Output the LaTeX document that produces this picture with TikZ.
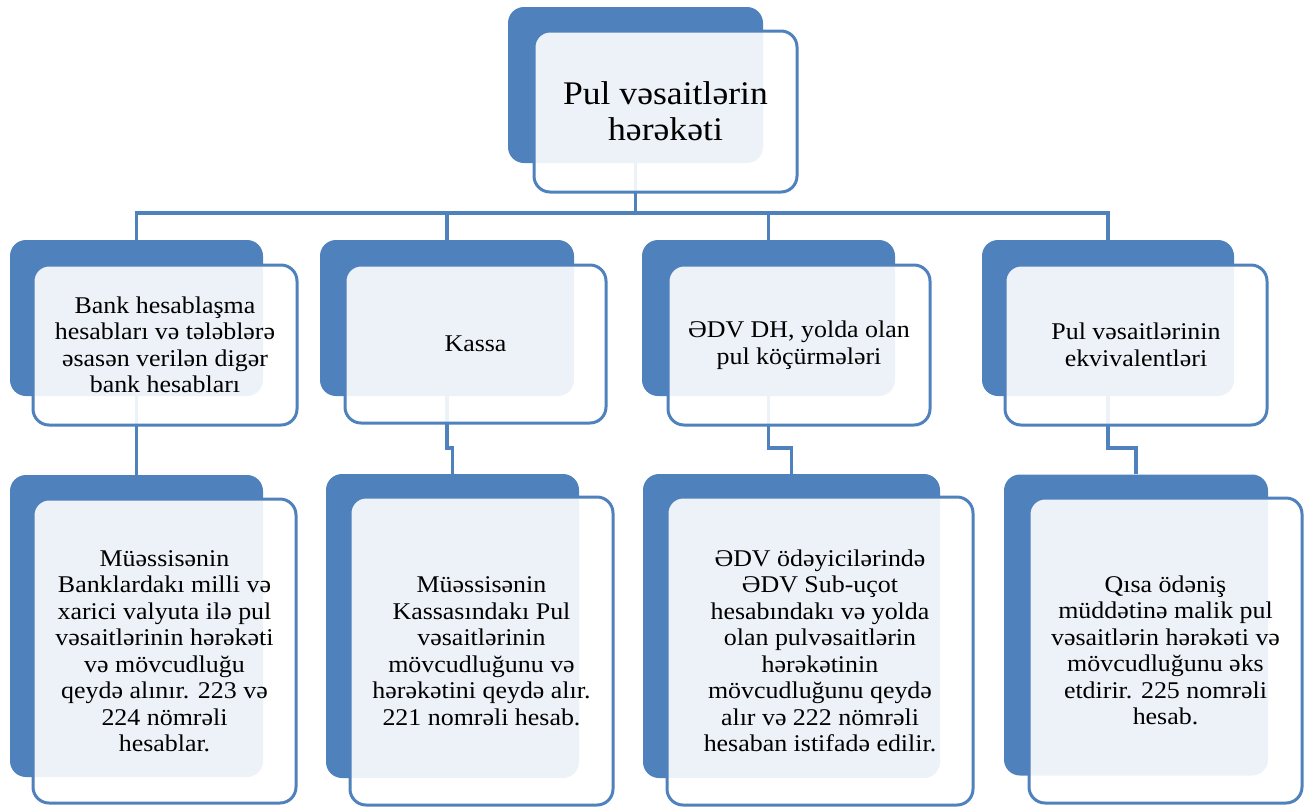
\documentclass[tikz,border=0pt]{standalone}
\usepackage{fontspec}
\setmainfont{Liberation Serif}[FakeStretch=1.08]
\definecolor{boxblue}{HTML}{4F81BD}

\begin{document}
\begin{tikzpicture}[x=1pt,y=-1pt,
  back/.style={fill=boxblue, rounded corners=16pt, inner sep=0pt},
  front/.style={draw=boxblue, line width=3pt, fill=white, fill opacity=0.9, text opacity=1,
    rounded corners=16pt, inner sep=0pt, align=center},
  link/.style={draw=boxblue, line width=3.5pt},
  big/.style={font=\fontsize{33}{36}\selectfont},
  small/.style={font=\fontsize{24}{26.5}\selectfont}]
\useasboundingbox (0,0) rectangle (1309,807);

%back boxes
\node[back, minimum width=255pt, minimum height=156pt] (topb) at (635.5,85) {};
\node[back, minimum width=253pt, minimum height=156pt] (bankb) at (136.5,318) {};
\node[back, minimum width=254pt, minimum height=156pt] (kassab) at (447,318) {};
\node[back, minimum width=253pt, minimum height=156pt] (edvb) at (768.5,318) {};
\node[back, minimum width=252pt, minimum height=156pt] (ekvb) at (1108,318) {};
\node[back, minimum width=253pt, minimum height=302pt] (bankdb) at (136.5,626) {};
\node[back, minimum width=253pt, minimum height=304pt] (kassadb) at (452.5,626) {};
\node[back, minimum width=297pt, minimum height=304pt] (edvdb) at (791.5,626) {};
\node[back, minimum width=264pt, minimum height=301pt] (ekvdb) at (1136,625) {};

%links
\draw[link] (topb.south) -- ++(0,50) -| (bankb.north);
\draw[link] (topb.south) -- ++(0,50) -| (kassab.north);
\draw[link] (topb.south) -- ++(0,50) -| (edvb.north);
\draw[link] (topb.south) -- ++(0,50) -| (ekvb.north);
\draw[link] (bankb.south) -- ++(0,52) -| (bankdb.north);
\draw[link] (kassab.south) -- ++(0,52) -| (kassadb.north);
\draw[link] (edvb.south) -- ++(0,52) -| (edvdb.north);
\draw[link] (ekvb.south) -- ++(0,52) -| (ekvdb.north);

%front boxes
\node[front, big, minimum width=263pt, minimum height=161pt] (top) at (665.5,111.5)
  {Pul vəsaitlərin\\hərəkəti};
\node[front, small, minimum width=264pt, minimum height=160pt] (bank) at (165,345)
  {Bank hesablaşma\\hesabları və tələblərə\\əsasən verilən digər\\bank hesabları};
\node[front, small, minimum width=261pt, minimum height=158pt] (kassa) at (475.5,344)
  {Kassa};
\node[front, small, minimum width=262pt, minimum height=160pt] (edv) at (799,345)
  {ƏDV DH, yolda olan\\pul köçürmələri};
\node[front, small, minimum width=262pt, minimum height=160pt] (ekv) at (1136,345)
  {Pul vəsaitlərinin\\ekvivalentləri};
\node[front, small, minimum width=263pt, minimum height=304pt] (bankd) at (164.5,651)
  {Müəssisənin\\Banklardakı milli və\\xarici valyuta ilə pul\\vəsaitlərinin hərəkəti\\və mövcudluğu\\qeydə alınır. 223 və\\224 nömrəli\\hesablar.};
\node[front, small, minimum width=263pt, minimum height=308pt] (kassad) at (481.5,651)
  {Müəssisənin\\Kassasındakı Pul\\vəsaitlərinin\\mövcudluğunu və\\hərəkətini qeydə alır.\\221 nomrəli hesab.};
\node[front, small, minimum width=306pt, minimum height=308pt] (edvd) at (820,651)
  {ƏDV ödəyicilərində\\ƏDV Sub-uçot\\hesabındakı və yolda\\olan pulvəsaitlərin\\hərəkətinin\\mövcudluğunu qeydə\\alır və 222 nömrəli\\hesaban istifadə edilir.};
\node[front, small, minimum width=273pt, minimum height=305pt] (ekvd) at (1165.5,650.5)
  {Qısa ödəniş\\müddətinə malik pul\\vəsaitlərin hərəkəti və\\mövcudluğunu əks\\etdirir. 225 nomrəli\\hesab.};
\end{tikzpicture}
\end{document}
